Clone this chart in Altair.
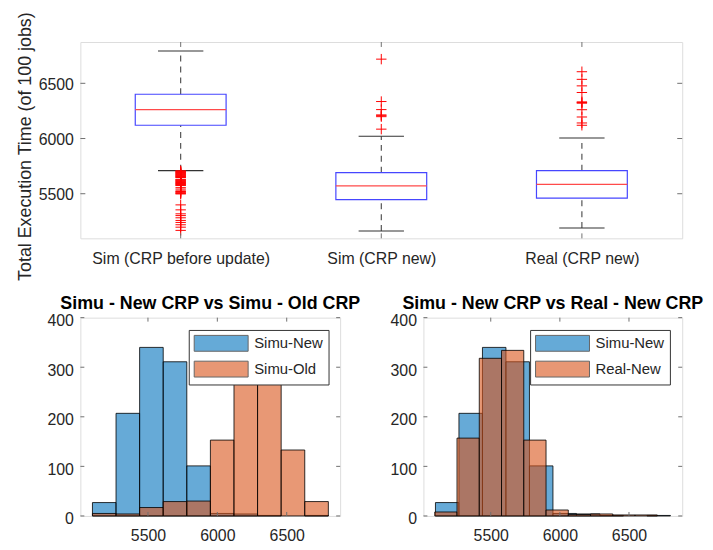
import altair as alt
import pandas as pd

FONT = "Liberation Sans"
TXT = "#262626"
FRAME = "#6f6f6f"

# ---------------- box plot data ----------------
categories = ["Sim (CRP before update)", "Sim (CRP new)", "Real (CRP new)"]
positions = [1, 2, 3]
q1_vals = [6120, 5446, 5461]
median_vals = [6261, 5572, 5584]
q3_vals = [6401, 5691, 5709]
whisker_low = [5709, 5162, 5189]
whisker_high = [6793, 6021, 6005]

outliers_before = [5708, 5703, 5699, 5694, 5690, 5686, 5681, 5677, 5672, 5668,
                   5663, 5659, 5655, 5650, 5647,
                   5631, 5626, 5622, 5617, 5612, 5607, 5602, 5597, 5592, 5588,
                   5583, 5578, 5574,
                   5555, 5542,
                   5526, 5520, 5514, 5508, 5503, 5498,
                   5399, 5354, 5318, 5302, 5282, 5258, 5240, 5219, 5197, 5168]
outliers_sim_new = [6719, 6335, 6262, 6214, 6207, 6198, 6085]
outliers_real_new = [6605, 6536, 6477, 6417, 6332, 6326, 6320, 6261, 6195, 6141, 6120]

box_y_ticks = [5500, 6000, 6500]

# ---------------- histogram data ----------------
hist_titles = ["Simu - New CRP vs Simu - Old CRP", "Simu - New CRP vs Real - New CRP"]
hist_x_ticks = [5500, 6000, 6500]
hist_y_ticks = [0, 100, 200, 300, 400]
simu_edges = [5100, 5270, 5440, 5610, 5780, 5950, 6120, 6290, 6460, 6630, 6800]
simu_new_counts = [27, 207, 340, 311, 101, 5, 4, 1, 0, 1]
simu_old_counts = [5, 4, 17, 29, 30, 153, 315, 290, 133, 29]
real_edges = [5095, 5256, 5417, 5578, 5739, 5900, 6061, 6222, 6383, 6544, 6705]
real_new_counts = [8, 157, 318, 334, 153, 12, 3, 4, 2, 2]

BLUE = "#0072BD"
ORANGE = "#D95319"
PLUS = "M-1,0L1,0M0,-1L0,1"
PATCH = "M-1,-1L5.8,-1L5.8,1L-1,1Z"

# ================= top: box plot =================
TW, TH = 607, 198
box_df = pd.DataFrame({"pos": positions, "q1": q1_vals, "median": median_vals,
                       "q3": q3_vals, "wlo": whisker_low, "whi": whisker_high})
out_pos, out_val = [], []
for p, lst in zip(positions, [outliers_before, outliers_sim_new, outliers_real_new]):
    out_pos += [p] * len(lst)
    out_val += lst
out_df = pd.DataFrame({"pos": out_pos, "value": out_val})

xs = alt.Scale(domain=[0.5, 3.5], nice=False, zero=False)
ys = alt.Scale(domain=[5096, 6874], nice=False, zero=False)
label_expr = "[" + ",".join("'" + c + "'" for c in categories) + "][datum.value - 1]"
x_axis = alt.Axis(values=positions, labelExpr=label_expr, title=None, grid=False,
                  ticks=False, tickSize=0, domain=False, labelPadding=12,
                  labelFontSize=16, labelFont=FONT, labelColor=TXT)
y_axis = alt.Axis(values=box_y_ticks, format="d", title="Total Execution Time (of 100 jobs)",
                  grid=False, ticks=False, tickSize=0, domain=False, labelPadding=7,
                  labelOffset=1, labelFontSize=16, labelFont=FONT, labelColor=TXT,
                  titleFontSize=18, titleFont=FONT, titleFontWeight="normal",
                  titleColor=TXT, titleX=-46.5, titleY=105, titleAngle=270,
                  titleBaseline="bottom", titleAlign="center")


def TX(f):
    return alt.X(f, type="quantitative", scale=xs, axis=x_axis)


def TY(f):
    return alt.Y(f, type="quantitative", scale=ys, axis=y_axis)


base = alt.Chart(box_df).transform_calculate(
    box_l="datum.pos - 0.2264", box_r="datum.pos + 0.2264",
    cap_l="datum.pos - 0.113", cap_r="datum.pos + 0.113")

whisk_up = base.mark_rule(color="#444444", strokeWidth=1.1, strokeDash=[6, 5]).encode(
    x=TX("pos"), y=TY("q3"), y2=alt.Y2("whi:Q"))
whisk_dn = base.mark_rule(color="#444444", strokeWidth=1.1, strokeDash=[6, 5]).encode(
    x=TX("pos"), y=TY("wlo"), y2=alt.Y2("q1:Q"))
cap_up = base.mark_rule(color="#333333", strokeWidth=1.1).encode(
    x=TX("cap_l"), x2=alt.X2("cap_r:Q"), y=TY("whi"))
cap_dn = base.mark_rule(color="#333333", strokeWidth=1.1).encode(
    x=TX("cap_l"), x2=alt.X2("cap_r:Q"), y=TY("wlo"))
box = base.mark_rect(fill="white", fillOpacity=0, stroke="#4646ff", strokeWidth=1.2).encode(
    x=TX("box_l"), x2=alt.X2("box_r:Q"), y=TY("q1"), y2=alt.Y2("q3:Q"))
med = base.mark_rule(color="#ff4a4a", strokeWidth=1.2).encode(
    x=TX("box_l"), x2=alt.X2("box_r:Q"), y=TY("median"))
outs = alt.Chart(out_df).mark_point(shape=PLUS, filled=False, color="red", size=110,
                                    strokeWidth=1, opacity=1).encode(
    x=TX("pos"), y=TY("value"))

ytk = alt.Chart(pd.DataFrame({"v": box_y_ticks}))
xtk = alt.Chart(pd.DataFrame({"v": positions}))
t_left = ytk.mark_rule(color=FRAME).encode(x=alt.value(0), x2=alt.value(5), y=TY("v"))
t_right = ytk.mark_rule(color=FRAME).encode(x=alt.value(TW - 5), x2=alt.value(TW), y=TY("v"))
t_bot = xtk.mark_rule(color=FRAME).encode(x=TX("v"), y=alt.value(TH - 5), y2=alt.value(TH))
t_top = xtk.mark_rule(color=FRAME).encode(x=TX("v"), y=alt.value(0), y2=alt.value(5))

top = alt.layer(whisk_up, whisk_dn, cap_up, cap_dn, box, med, outs,
                t_left, t_right, t_bot, t_top).properties(width=TW, height=TH)


# ================= bottom: histograms =================
def hist_panel(title, names, edges_list, counts_list, width, legend_x):
    H = 200
    rows = []
    for name, edges, counts in zip(names, edges_list, counts_list):
        for i, c in enumerate(counts):
            rows.append({"series": name, "start": edges[i], "end": edges[i + 1], "count": c})
    df = pd.DataFrame(rows)
    hxs = alt.Scale(domain=[5013, 6885], nice=False, zero=False)
    hys = alt.Scale(domain=[0, 400], nice=False, zero=False)
    hx_axis = alt.Axis(values=hist_x_ticks, format="d", title=None, grid=False,
                       ticks=False, tickSize=0, domain=False, labelPadding=12,
                       labelFontSize=16, labelFont=FONT, labelColor=TXT)
    hy_axis = alt.Axis(values=hist_y_ticks, format="d", title=None, grid=False,
                       ticks=False, tickSize=0, domain=False, labelPadding=7,
                       labelOffset=3, labelFontSize=16, labelFont=FONT, labelColor=TXT)

    def HX(f):
        return alt.X(f, type="quantitative", scale=hxs, axis=hx_axis)

    def HY(f):
        return alt.Y(f, type="quantitative", scale=hys, axis=hy_axis)

    legend = alt.Legend(title=None, orient="none", legendX=legend_x, legendY=12.4,
                        symbolType=PATCH, symbolSize=256, labelOffset=44,
                        labelFontSize=15, labelFont=FONT, labelColor=TXT,
                        fillColor="white", strokeColor="#333333", padding=5,
                        rowPadding=5, symbolStrokeColor="black", symbolStrokeWidth=1,
                        symbolOpacity=0.6, labelLimit=200)
    bars = alt.Chart(df).transform_filter("datum.count > 0").mark_rect(
        fillOpacity=0.6, stroke="black", strokeWidth=0.9, strokeOpacity=0.9).encode(
        x=HX("start"), x2=alt.X2("end:Q"), y=HY("count"), y2=alt.Y2(datum=0),
        fill=alt.Fill("series:N", scale=alt.Scale(domain=names, range=[BLUE, ORANGE]),
                      legend=legend))
    hyt = alt.Chart(pd.DataFrame({"v": hist_y_ticks}))
    hxt = alt.Chart(pd.DataFrame({"v": hist_x_ticks}))
    tl = hyt.mark_rule(color=FRAME).encode(x=alt.value(0), x2=alt.value(4), y=HY("v"))
    tr = hyt.mark_rule(color=FRAME).encode(x=alt.value(width - 4), x2=alt.value(width), y=HY("v"))
    tb = hxt.mark_rule(color=FRAME).encode(x=HX("v"), y=alt.value(H - 4), y2=alt.value(H))
    tt = hxt.mark_rule(color=FRAME).encode(x=HX("v"), y=alt.value(0), y2=alt.value(4))
    ttl = alt.Chart(pd.DataFrame({"t": [title]})).mark_text(
        font=FONT, fontSize=18, fontWeight="bold", color="black", align="center",
        baseline="alphabetic").encode(
        text="t:N", x=alt.value(width / 2), y=alt.value(-9))
    return alt.layer(bars, tl, tr, tb, tt, ttl).properties(width=width, height=H)


left = hist_panel(hist_titles[0], ["Simu-New", "Simu-Old"],
                  [simu_edges, simu_edges], [simu_new_counts, simu_old_counts], 262, 109.3)
right = hist_panel(hist_titles[1], ["Simu-New", "Real-New"],
                   [simu_edges, real_edges], [simu_new_counts, real_new_counts], 261, 107.6)

bottom = alt.hconcat(left, right, spacing=84, bounds="flush").resolve_scale(
    fill="independent", x="independent", y="independent")

chart = alt.vconcat(top, bottom, spacing=80, bounds="flush").properties(
    padding={"left": 7, "top": 0, "right": 0, "bottom": 0}
).configure_view(stroke=FRAME, strokeWidth=1.2).configure(background="white")

chart.save("out.html", embed_options={"renderer": "svg", "actions": False})
